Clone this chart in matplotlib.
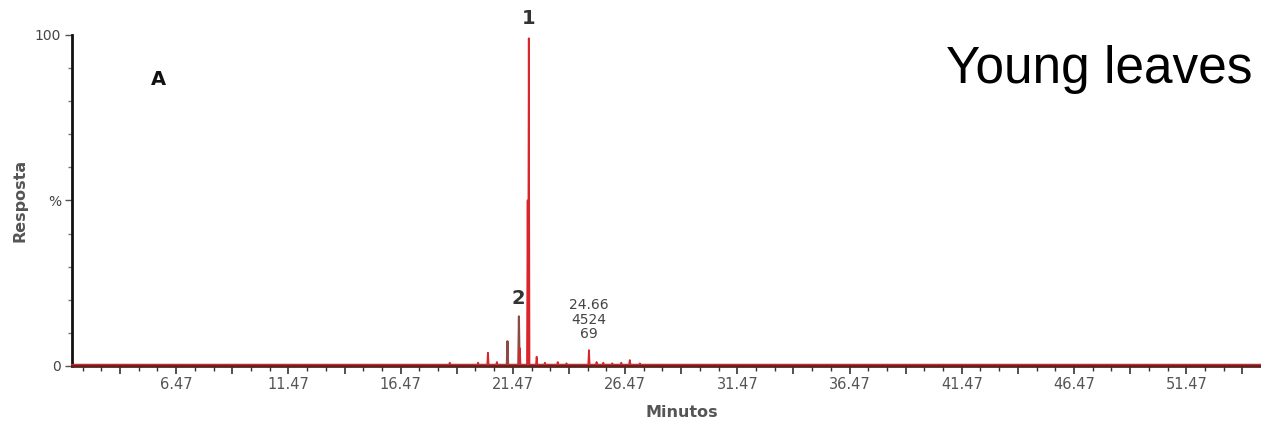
import numpy as np
import matplotlib.pyplot as plt
from matplotlib.ticker import FixedLocator, NullFormatter

# chromatogram peaks (minutes, relative response %)
red_times = [18.66, 19.92, 20.36, 20.76, 21.78, 22.13, 22.18, 22.53, 22.9, 23.47, 23.86,
             24.86, 25.2, 25.5, 25.9, 26.3, 26.68, 27.13]
red_heights = [1.0, 1.0, 4.0, 1.2, 5.4, 50.0, 99.0, 2.8, 1.0, 1.2, 0.8,
               4.8, 1.2, 1.0, 0.8, 1.0, 1.8, 0.8]
dark_times = [21.23, 21.74]
dark_heights = [7.5, 15.0]

label_ticks = [6.47, 11.47, 16.47, 21.47, 26.47, 31.47, 36.47, 41.47, 46.47, 51.47]
peak_note = "24.66\n4524\n69"

fig = plt.figure(figsize=(12.61, 4.24), dpi=100)
ax = fig.add_axes([0.0571, 0.1368, 0.9429, 0.7807])

def trace(times, heights, w=0.03):
    xs, ys = [1.83], [0.35]
    for t, h in sorted(zip(times, heights)):
        xs += [t - w, t, t + w]
        ys += [0.35, h, 0.35]
    xs.append(54.8)
    ys.append(0.35)
    return xs, ys

xs, ys = trace(red_times, red_heights)
ax.plot(xs, ys, color='#d9262c', lw=1.3, zorder=3, clip_on=False)
xs, ys = trace(dark_times, dark_heights)
ax.plot(xs, ys, color='#8c4a42', lw=1.5, zorder=2, clip_on=False)

ax.set_xlim(1.83, 54.8)
ax.set_ylim(0, 100)

for s in ['top', 'right']:
    ax.spines[s].set_visible(False)
ax.spines['left'].set_color('#111111')
ax.spines['left'].set_linewidth(2)
ax.spines['bottom'].set_color('#5a2420')
ax.spines['bottom'].set_linewidth(2)
ax.spines['bottom'].set_zorder(4)

# x ticks
ax.xaxis.set_major_locator(FixedLocator(np.arange(1.47, 55, 2.5)))
ax.xaxis.set_minor_locator(FixedLocator(np.arange(1.47, 55, 5 / 6)))
ax.xaxis.set_major_formatter(NullFormatter())
ax.tick_params(axis='x', which='major', length=6, width=1.2, color='#333333')
ax.tick_params(axis='x', which='minor', length=3.5, width=1, color='#333333')
for t in label_ticks:
    ax.text(t, -3.3, f"{t:.2f}", ha='center', va='top', fontsize=10.5,
            color='#555555', family='DejaVu Sans')

# y ticks
ax.set_yticks([0, 50, 100])
ax.set_yticklabels(['0', '%', '100'], fontsize=10, color='#444444')
ax.yaxis.set_minor_locator(FixedLocator(np.arange(0, 101, 10)))
ax.tick_params(axis='y', which='major', length=5, width=1, color='#555555', pad=3)
ax.tick_params(axis='y', which='minor', length=3, width=1, color='#777777')

fig.text(0.016, 0.528, 'Resposta', rotation=90, ha='center', va='center',
         fontsize=11.5, fontweight='bold', color='#555555')
fig.text(0.541, 0.01, 'Minutos', ha='center', va='bottom',
         fontsize=11.5, fontweight='bold', color='#555555')

ax.text(5.66, 86.4, 'A', ha='center', va='center', fontsize=14,
        fontweight='bold', color='#111111')
ax.text(22.18, 105, '1', ha='center', va='center', fontsize=14,
        fontweight='bold', color='#333333', clip_on=False)
ax.text(21.7, 20.5, '2', ha='center', va='center', fontsize=14,
        fontweight='bold', color='#333333')
ax.text(24.86, 7.5, peak_note, ha='center', va='bottom', fontsize=10,
        color='#444444', linespacing=1.05)

fig.text(0.872, 0.835, 'Young leaves', ha='center', va='center',
         fontsize=37, family='Liberation Sans', color='black')

fig.savefig('out.png', dpi=100)
